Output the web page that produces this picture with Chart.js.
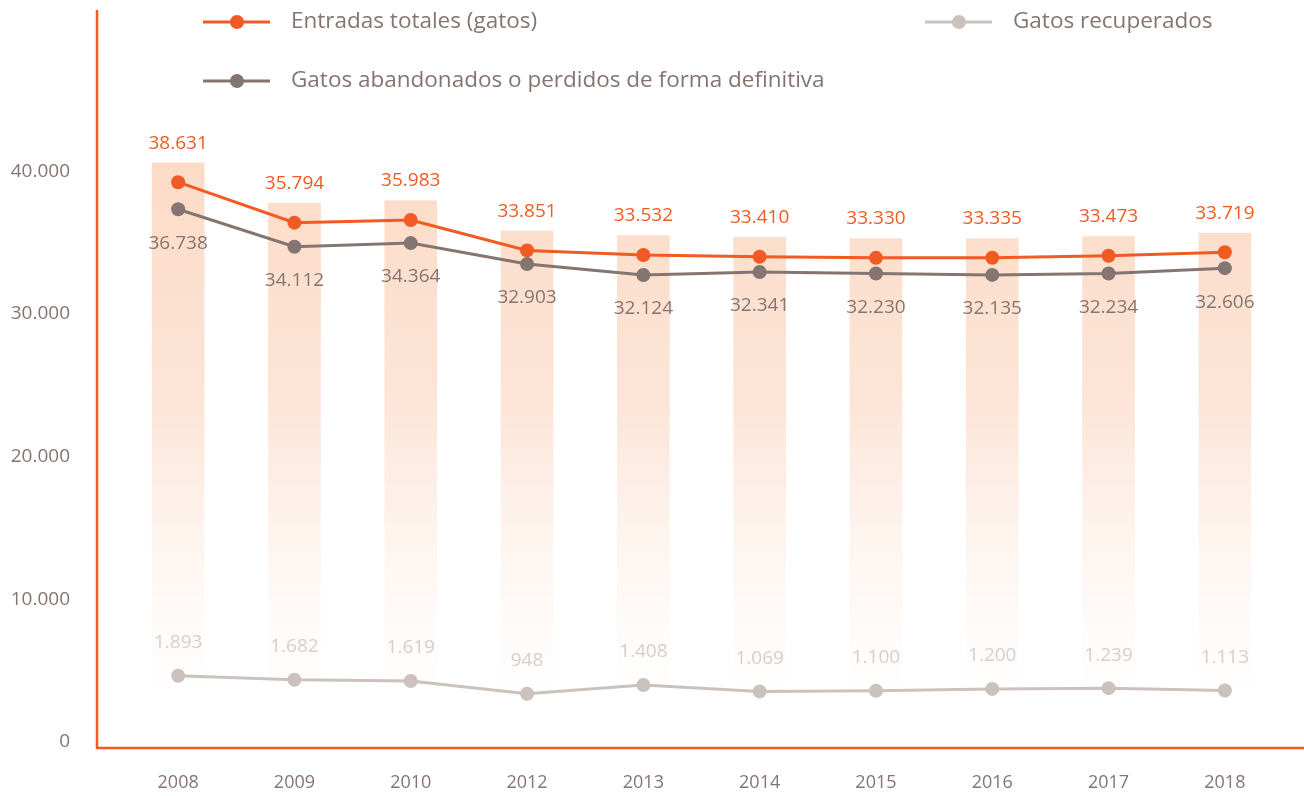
<!DOCTYPE html>
<html>
<head>
<meta charset="utf-8">
<script src="https://cdn.jsdelivr.net/npm/chart.js@4.4.1/dist/chart.umd.min.js"></script>
<style>
  html, body { margin: 0; padding: 0; background: #fff; }
  #wrap { width: 1304px; height: 796px; position: relative; }
</style>
</head>
<body>
<div id="wrap"><canvas id="gatos"></canvas></div>
<script>
const years = ['2008', '2009', '2010', '2012', '2013', '2014', '2015', '2016', '2017', '2018'];
const entradas = [38631, 35794, 35983, 33851, 33532, 33410, 33330, 33335, 33473, 33719];
const abandonados = [36738, 34112, 34364, 32903, 32124, 32341, 32230, 32135, 32234, 32606];
const recuperados = [1893, 1682, 1619, 948, 1408, 1069, 1100, 1200, 1239, 1113];
const yTicks = [0, 10000, 20000, 30000, 40000];

const NARANJA = '#f15a22';
const MARRON = '#857570';
const GRIS = '#cbc2bd';
const FUENTE = '"Open Sans", sans-serif';

function fmt(v) {
    return String(v).replace(/\B(?=(\d{3})+(?!\d))/g, '.');
}

// etiquetas de valor encima / debajo de cada punto
const etiquetas = {
    id: 'etiquetas',
    afterDatasetsDraw(chart) {
        const ctx = chart.ctx;
        ctx.save();
        ctx.font = '19px ' + FUENTE;
        ctx.textAlign = 'center';
        ctx.textBaseline = 'middle';
        chart.data.datasets.forEach((ds, i) => {
            if (!ds.etiqueta) return;
            const meta = chart.getDatasetMeta(i);
            ctx.fillStyle = ds.etiqueta.color;
            meta.data.forEach((pt, j) => {
                ctx.fillText(fmt(ds.data[j]), pt.x, pt.y + ds.etiqueta.dy);
            });
        });
        ctx.restore();
    }
};

// ejes naranjas y leyenda
const decoracion = {
    id: 'decoracion',
    afterDraw(chart) {
        const ctx = chart.ctx;
        ctx.save();
        ctx.strokeStyle = NARANJA;
        ctx.lineWidth = 2.5;
        ctx.beginPath();
        ctx.moveTo(97, 10);
        ctx.lineTo(97, 748);
        ctx.lineTo(1304, 748);
        ctx.stroke();

        const items = [
            { ds: 0, x: 203, y: 22 },
            { ds: 2, x: 925, y: 22 },
            { ds: 1, x: 203, y: 81 }
        ];
        ctx.font = '22.5px ' + FUENTE;
        ctx.textBaseline = 'middle';
        items.forEach(it => {
            const ds = chart.data.datasets[it.ds];
            ctx.strokeStyle = ds.borderColor;
            ctx.lineWidth = 3;
            ctx.beginPath();
            ctx.moveTo(it.x, it.y);
            ctx.lineTo(it.x + 67, it.y);
            ctx.stroke();
            ctx.fillStyle = ds.borderColor;
            ctx.beginPath();
            ctx.arc(it.x + 34, it.y, 7, 0, Math.PI * 2);
            ctx.fill();
            ctx.fillStyle = MARRON;
            ctx.fillText(ds.label, it.x + 88, it.y);
        });
        ctx.restore();
    }
};

const canvas = document.getElementById('gatos');

const config = {
    data: {
        labels: years,
        datasets: [
            {
                type: 'line',
                label: 'Entradas totales (gatos)',
                data: entradas,
                yAxisID: 'yLineas',
                borderColor: NARANJA,
                backgroundColor: NARANJA,
                borderWidth: 3,
                pointRadius: 7,
                pointBorderWidth: 0,
                tension: 0,
                etiqueta: { color: NARANJA, dy: -39 }
            },
            {
                type: 'line',
                label: 'Gatos abandonados o perdidos de forma definitiva',
                data: abandonados,
                yAxisID: 'yLineas',
                borderColor: MARRON,
                backgroundColor: MARRON,
                borderWidth: 3,
                pointRadius: 7,
                pointBorderWidth: 0,
                tension: 0,
                etiqueta: { color: MARRON, dy: 34 }
            },
            {
                type: 'line',
                label: 'Gatos recuperados',
                data: recuperados,
                yAxisID: 'yRec',
                borderColor: GRIS,
                backgroundColor: GRIS,
                borderWidth: 3,
                pointRadius: 7,
                pointBorderWidth: 0,
                tension: 0,
                etiqueta: { color: '#d6cec9', dy: -33 }
            },
            {
                type: 'bar',
                label: 'fondo',
                data: entradas,
                yAxisID: 'yBar',
                barThickness: 52,
                borderWidth: 0,
                backgroundColor: (c) => {
                    const area = c.chart.chartArea;
                    if (!area) return 'rgba(252,219,198,1)';
                    const g = c.chart.ctx.createLinearGradient(0, 160, 0, 700);
                    g.addColorStop(0, 'rgba(252,219,198,1)');
                    g.addColorStop(0.45, 'rgba(252,224,208,0.85)');
                    g.addColorStop(1, 'rgba(253,240,232,0)');
                    return g;
                }
            }
        ]
    },
    options: {
        responsive: true,
        maintainAspectRatio: false,
        animation: false,
        layout: { padding: { top: 0, right: 21, bottom: 0, left: 0 } },
        plugins: {
            legend: { display: false },
            tooltip: { enabled: false }
        },
        scales: {
            x: {
                grid: { display: false, drawTicks: false },
                border: { display: false },
                ticks: {
                    padding: 30,
                    color: MARRON,
                    font: { family: FUENTE, size: 18 }
                },
                afterFit(scale) { scale.height = 54; }
            },
            y: {
                min: 0,
                max: 51200,
                grid: { color: 'transparent', drawOnChartArea: false, drawTicks: true, tickLength: 50 },
                border: { display: false },
                ticks: {
                    padding: 0,
                    color: MARRON,
                    font: { family: FUENTE, size: 19 },
                    callback: (v) => fmt(v)
                },
                afterBuildTicks(scale) {
                    scale.ticks = yTicks.map(v => ({ value: v }));
                },
                afterFit(scale) { scale.width = 120; }
            },
            yLineas: { display: false, min: -600, max: 50600 },
            yBar: { display: false, min: -1950, max: 49250 },
            yRec: { display: false, min: -1590, max: 36800 }
        }
    },
    plugins: [etiquetas, decoracion]
};

new Chart(canvas, config);
</script>
</body>
</html>
